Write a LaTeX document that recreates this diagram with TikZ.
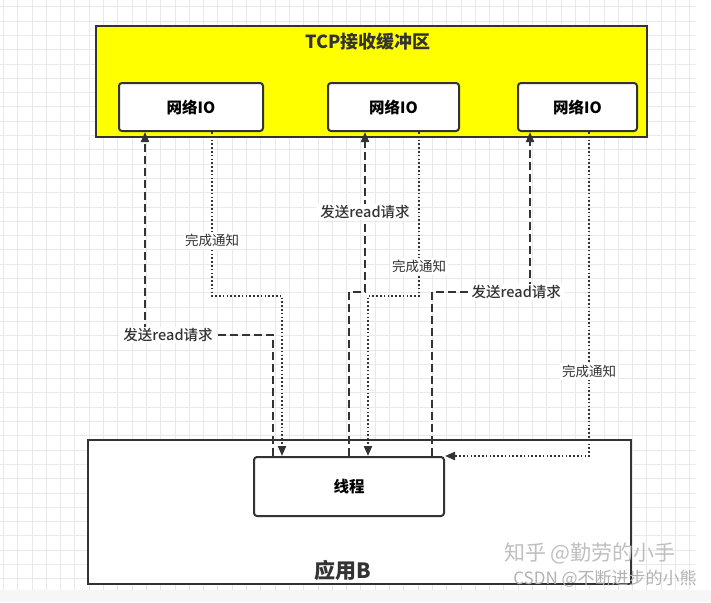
\documentclass[tikz,border=0pt]{standalone}
\usepackage{fontspec}
\setmainfont{Noto Sans CJK SC}
\newfontfamily\medfont{Noto Sans CJK SC}[UprightFont=* Medium]
\usetikzlibrary{arrows.meta}

\definecolor{linegray}{HTML}{333333}
\definecolor{bufyellow}{HTML}{FFFF00}

\tikzset{
  box/.style={draw=linegray, line width=2pt, fill=white, rounded corners=3pt, inner sep=0pt},
  req/.style={draw=linegray, line width=2pt, dash pattern=on 8pt off 4pt, -{Triangle[length=10pt,width=8pt]}},
  done/.style={draw=linegray, line width=2pt, dash pattern=on 1.6pt off 2.2pt, -{Triangle[length=10pt,width=8pt]}},
  reqlabel/.style={fill=white, inner xsep=4pt, inner ysep=1pt, text=linegray, font=\medfont\fontsize{14.5}{16}\selectfont},
  donelabel/.style={fill=white, inner xsep=2pt, inner ysep=2pt, text=linegray, font=\fontsize{13.5}{15}\selectfont},
  gridline/.style={draw=gray!17, line width=0.7pt}
}

\begin{document}
\begin{tikzpicture}[x=1pt, y=-1pt]
      % Page size
      \useasboundingbox (0,0) rectangle (711,602);
      \fill[gray!7] (0,590) rectangle (711,602);

      % Background grid
      \foreach \i in {0,...,48} {
        \draw[gridline] ({3.3+14.3*\i},0) -- ++(0,590);
      }
      \foreach \j in {0,...,40} {
        \draw[gridline] (0,{6.7+14.3*\j}) -- ++(696,0);
      }

      % TCP buffer
      \node[draw=linegray, line width=2pt, fill=bufyellow, minimum width=551, minimum height=111] (buffer) at (371.5,81.5) {};
      \node[font=\bfseries\fontsize{18}{20}\selectfont, text=linegray] (title) at (368,42) {TCP接收缓冲区};
      \node[box, minimum width=144, minimum height=48, font=\bfseries\fontsize{15.5}{17}\selectfont] (io1) at (191,107) {网络IO};
      \node[box, minimum width=131, minimum height=48, font=\bfseries\fontsize{15.5}{17}\selectfont] (io2) at (393.5,107) {网络IO};
      \node[box, minimum width=119, minimum height=48, font=\bfseries\fontsize{15.5}{17}\selectfont] (io3) at (577.5,107) {网络IO};

      % Application
      \node[draw=linegray, line width=2pt, fill=white, minimum width=543, minimum height=144] (app) at (359.5,512) {};
      \node[font=\bfseries\fontsize{21}{23}\selectfont, text=linegray] (appname) at (343,570) {应用B};
      \node[box, minimum width=190, minimum height=59, font=\bfseries\fontsize{15.5}{17}\selectfont] (thread) at (349,486.5) {线程};

      % read requests
      \draw[req] ([xshift=20]thread.north west) -- ++(0,-121) -| node[reqlabel, pos=0.41] {发送read请求} ([xshift=27]io1.south west);
      \draw[req] (thread.north) -- ++(0,-164) -| node[reqlabel, pos=0.75] {发送read请求} ([xshift=38]io2.south west);
      \draw[req] ([xshift=179]thread.north west) -- ++(0,-164) -| node[reqlabel, pos=0.43] {发送read请求} ([xshift=13]io3.south west);

      % completion notices
      \draw[done] ([xshift=94]io1.south west) -- node[donelabel, pos=0.66] {完成通知} ++(0,164) -| ([xshift=29]thread.north west);
      \draw[done] ([xshift=92]io2.south west) -- node[donelabel, pos=0.82] {完成通知} ++(0,164) -| ([xshift=115]thread.north west);
      \draw[done] ([xshift=72]io3.south west) |- node[donelabel, pos=0.37] {完成通知} (thread.north east);

      % watermarks
      \node[text=gray!50, font=\fontsize{21}{23}\selectfont] (mark1) at (590,553) {知乎 @勤劳的小手};
      \node[text=gray!60, font=\fontsize{17}{19}\selectfont] (mark2) at (605,579) {CSDN @不断进步的小熊};
    \end{tikzpicture}
\end{document}
